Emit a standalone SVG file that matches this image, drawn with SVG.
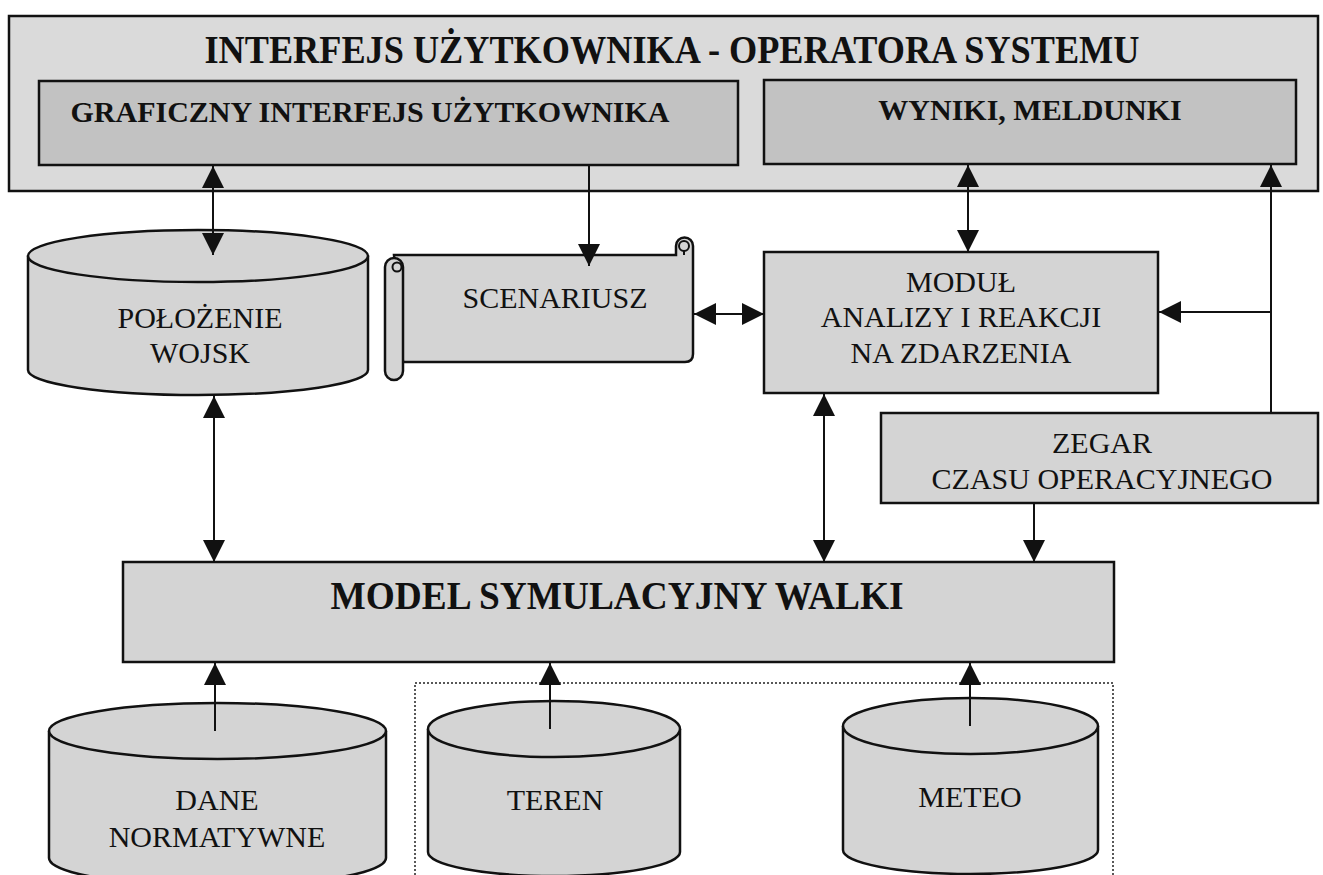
<svg xmlns="http://www.w3.org/2000/svg" width="1323" height="875" viewBox="0 0 1323 875">
<style>
.box{fill:#d4d4d4;stroke:#111;stroke-width:2.5}
.outer{fill:#dadada;stroke:#111;stroke-width:2.5}
.dark{fill:#c2c2c2;stroke:#111;stroke-width:2.5}
.t{font-family:"Liberation Serif","Times New Roman",serif;font-size:30px;fill:#111;text-anchor:middle}
.b{font-weight:bold}
.big{font-size:41px}
.ln{stroke:#111;stroke-width:2;fill:none}
.dot{fill:none;stroke:#222;stroke-width:1.5;stroke-dasharray:2 2}
</style>
<defs>
<marker id="ah" markerUnits="userSpaceOnUse" markerWidth="22" markerHeight="22" viewBox="0 0 22 22" refX="22" refY="11" orient="auto-start-reverse">
<path d="M0,0 L22,11 L0,22 z" fill="#111"/>
</marker>
</defs>
<rect width="1323" height="875" fill="#fff"/>

<g id="ui">
<rect class="outer" x="9" y="16" width="1309" height="175"/>
<text class="t b big" x="672" y="63" textLength="935" lengthAdjust="spacingAndGlyphs">INTERFEJS UŻYTKOWNIKA - OPERATORA SYSTEMU</text>
</g>
<g id="gui">
<rect class="dark" x="39" y="81" width="699" height="84"/>
<text class="t b" x="370" y="122">GRAFICZNY INTERFEJS UŻYTKOWNIKA</text>
</g>
<g id="wyniki">
<rect class="dark" x="764" y="80" width="532" height="84"/>
<text class="t b" x="1030" y="120">WYNIKI, MELDUNKI</text>
</g>

<g id="polozenie">
<path class="box" d="M28,256 A170,26 0 0 1 368,256 L368,370 A170,25 0 0 1 28,370 Z"/>
<path class="box" d="M28,256 A170,26 0 0 0 368,256"/>
<text class="t" x="200" y="328">POŁOŻENIE</text>
<text class="t" x="200" y="363">WOJSK</text>
</g>

<g id="scenariusz">
<path class="box" d="M394,255 L676,255 L676,246 A8.5,8.5 0 0 1 693,246 L693,354 Q693,362 685,362 L403,362 Z"/>
<circle cx="684" cy="246" r="5" fill="#d4d4d4" stroke="#111" stroke-width="2"/>
<path class="ln" d="M684,251 L684,255"/>
<rect class="box" x="385" y="258" width="18" height="122" rx="9"/>
<circle cx="397" cy="267" r="4.5" fill="#d4d4d4" stroke="#111" stroke-width="2"/>
<text class="t" x="555" y="308">SCENARIUSZ</text>
</g>

<g id="modul">
<rect class="box" x="764" y="252" width="394" height="141"/>
<text class="t" x="961" y="292">MODUŁ</text>
<text class="t" x="961" y="327">ANALIZY I REAKCJI</text>
<text class="t" x="961" y="363">NA ZDARZENIA</text>
</g>

<g id="zegar">
<rect class="box" x="881" y="413" width="437" height="90"/>
<text class="t" x="1102" y="453">ZEGAR</text>
<text class="t" x="1102" y="489">CZASU OPERACYJNEGO</text>
</g>

<g id="model">
<rect class="box" x="123" y="562" width="991" height="100"/>
<text class="t b" style="font-size:39px" x="617" y="609" textLength="573" lengthAdjust="spacingAndGlyphs">MODEL SYMULACYJNY WALKI</text>
</g>

<g id="grupa">
<rect class="dot" x="415" y="683" width="698" height="200"/>
</g>

<g id="dane">
<path class="box" d="M49,731 A168.5,28 0 0 1 386,731 L386,858 A168.5,28 0 0 1 49,858 Z"/>
<path class="box" d="M49,731 A168.5,28 0 0 0 386,731"/>
<text class="t" x="217" y="810">DANE</text>
<text class="t" x="217" y="847">NORMATYWNE</text>
</g>

<g id="teren">
<path class="box" d="M428,729 A126,28 0 0 1 680,729 L680,852 A126,24 0 0 1 428,852 Z"/>
<path class="box" d="M428,729 A126,28 0 0 0 680,729"/>
<text class="t" x="555" y="810">TEREN</text>
</g>

<g id="meteo">
<path class="box" d="M843,726 A127.5,28 0 0 1 1098,726 L1098,850 A127.5,24 0 0 1 843,850 Z"/>
<path class="box" d="M843,726 A127.5,28 0 0 0 1098,726"/>
<text class="t" x="970" y="807">METEO</text>
</g>

<g id="connectors">
<line class="ln" x1="213" y1="255" x2="213" y2="166" marker-start="url(#ah)" marker-end="url(#ah)"/>
<line class="ln" x1="589" y1="166" x2="589" y2="266" marker-end="url(#ah)"/>
<line class="ln" x1="968" y1="165" x2="968" y2="252" marker-start="url(#ah)" marker-end="url(#ah)"/>
<polyline class="ln" points="1271,413 1271,165" marker-end="url(#ah)"/>
<line class="ln" x1="1271" y1="312" x2="1159" y2="312" marker-end="url(#ah)"/>
<line class="ln" x1="694" y1="314" x2="764" y2="314" marker-start="url(#ah)" marker-end="url(#ah)"/>
<line class="ln" x1="824" y1="394" x2="824" y2="562" marker-start="url(#ah)" marker-end="url(#ah)"/>
<line class="ln" x1="1034" y1="503" x2="1034" y2="562" marker-end="url(#ah)"/>
<line class="ln" x1="214" y1="396" x2="214" y2="562" marker-start="url(#ah)" marker-end="url(#ah)"/>
<line class="ln" x1="215" y1="731" x2="215" y2="663" marker-end="url(#ah)"/>
<line class="ln" x1="550" y1="729" x2="550" y2="663" marker-end="url(#ah)"/>
<line class="ln" x1="970" y1="726" x2="970" y2="663" marker-end="url(#ah)"/>
</g>
</svg>
